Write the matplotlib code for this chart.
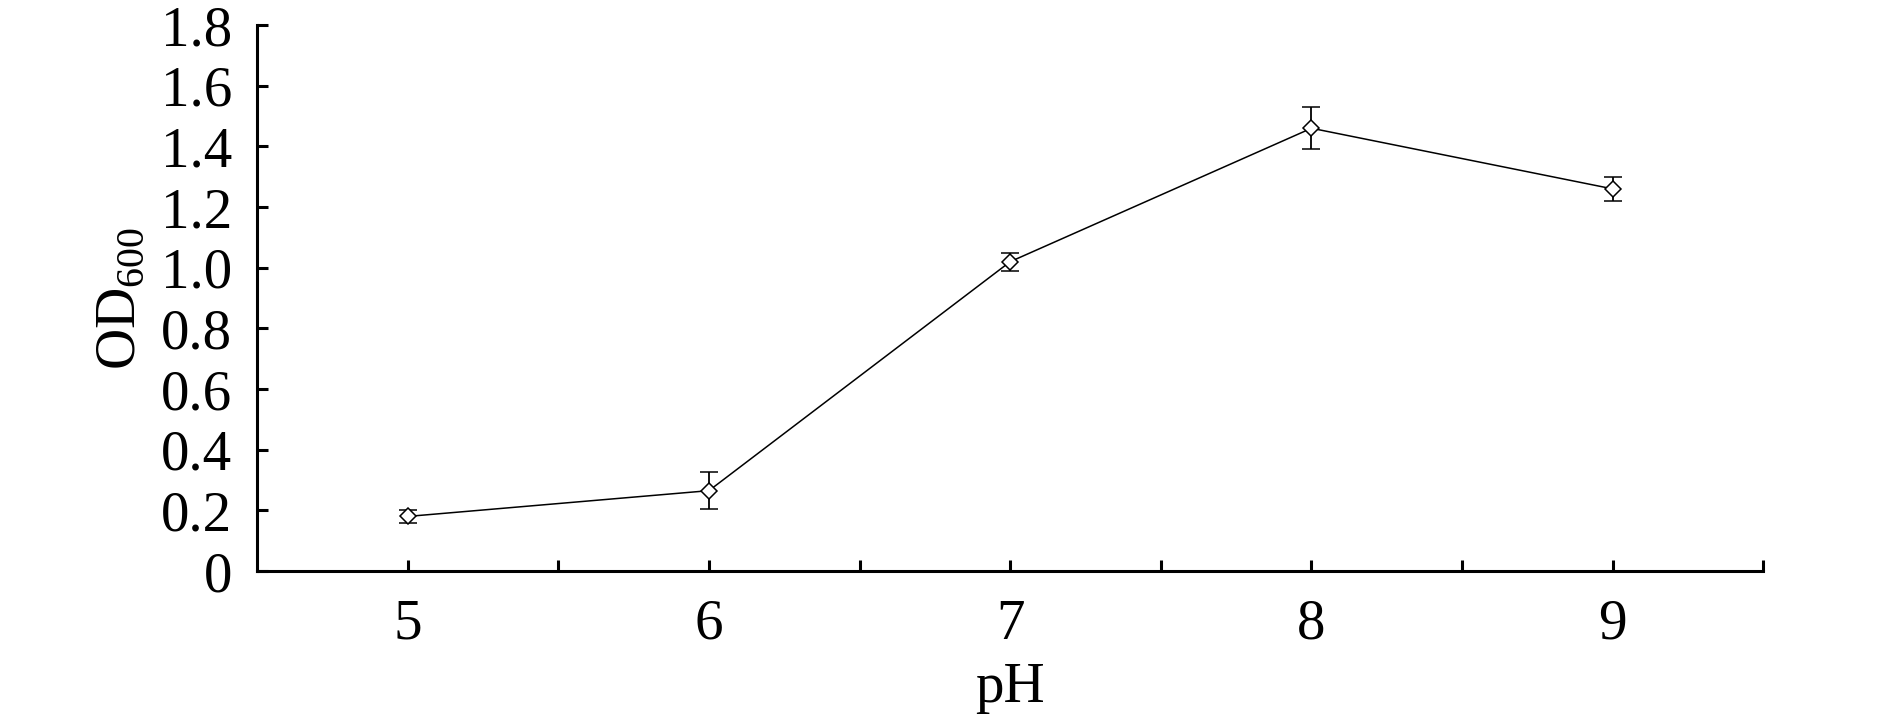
import matplotlib
matplotlib.use("Agg")
import matplotlib.pyplot as plt
import numpy as np

# OD600 growth vs pH
ph = [5, 6, 7, 8, 9]
od600 = [0.18, 0.265, 1.02, 1.46, 1.26]
od600_err = [0.022, 0.062, 0.03, 0.07, 0.04]
y_ticks = [0, 0.2, 0.4, 0.6, 0.8, 1.0, 1.2, 1.4, 1.6, 1.8]
y_tick_labels = ["0", "0.2", "0.4", "0.6", "0.8", "1.0", "1.2", "1.4", "1.6", "1.8"]

plt.rcParams["font.family"] = ["Liberation Serif", "DejaVu Serif"]
plt.rcParams["mathtext.fontset"] = "custom"
plt.rcParams["mathtext.rm"] = "Liberation Serif"

fig = plt.figure(figsize=(18.9, 7.18), dpi=100)
ax = fig.add_axes([0.136, 0.2047, 0.797, 0.7603])

ax.errorbar(ph, od600, yerr=od600_err, color="black", lw=1.1,
            marker="D", markersize=8.5, markerfacecolor="white", markeredgecolor="black",
            markeredgewidth=1.1, ecolor="black", elinewidth=1.3, capsize=6.5, capthick=1.5)

ax.set_xlim(4.5, 9.5)
ax.set_ylim(0, 1.8)
ax.set_xticks(ph)
ax.set_xticklabels([str(p) for p in ph])
ax.set_xticks(np.arange(5.5, 9.6, 1.0), minor=True)
ax.set_yticks(y_ticks)
ax.set_yticklabels(y_tick_labels)

for side in ("top", "right"):
    ax.spines[side].set_visible(False)
for side in ("left", "bottom"):
    ax.spines[side].set_linewidth(2.2)

ax.tick_params(axis="both", which="both", direction="in", width=2.2, length=8,
               labelsize=41)
ax.tick_params(axis="y", pad=18)
ax.tick_params(axis="x", which="major", pad=20)

ax.set_xlabel("pH", fontsize=41, labelpad=8)
ax.set_ylabel(r"OD$_{\mathrm{600}}$", fontsize=41, labelpad=10)

fig.savefig("out.png", dpi=100)
